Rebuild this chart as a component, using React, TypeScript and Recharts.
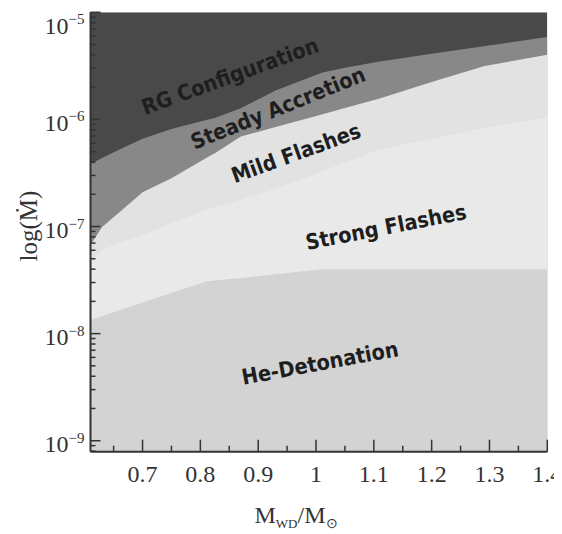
import { AreaChart, Area, XAxis, YAxis } from 'recharts';

// white dwarf mass (M_WD / M_sun) where the boundaries were read
const massGrid = [0.61, 0.63, 0.66, 0.7, 0.75, 0.81, 0.825, 0.87, 0.93, 1.01, 1.05, 1.11, 1.2, 1.29, 1.4];

// accretion rate boundaries (Msun/yr)
const rgLower = [3.84e-7, 4.37e-7, 5.25e-7, 6.61e-7, 8.13e-7, 9.89e-7, 1.03e-6, 1.27e-6, 1.86e-6, 2.72e-6, 3.03e-6, 3.47e-6, 4.1e-6, 4.82e-6, 5.89e-6];
const steadyLower = [6.71e-8, 9.89e-8, 1.36e-7, 2.09e-7, 2.82e-7, 4.37e-7, 4.83e-7, 6.92e-7, 8.51e-7, 1.11e-6, 1.28e-6, 1.57e-6, 2.24e-6, 3.14e-6, 4.01e-6];
const mildLower = [4.68e-8, 6.03e-8, 7.08e-8, 8.32e-8, 1.07e-7, 1.43e-7, 1.51e-7, 1.78e-7, 2.24e-7, 3.24e-7, 3.98e-7, 5.25e-7, 6.61e-7, 8.32e-7, 1.05e-6];
const heUpper = [1.34e-8, 1.45e-8, 1.65e-8, 1.95e-8, 2.4e-8, 3.07e-8, 3.13e-8, 3.31e-8, 3.59e-8, 3.98e-8, 3.98e-8, 3.98e-8, 3.98e-8, 3.98e-8, 3.98e-8];

const yTop = 1e-5;
const yBottom = 7.9e-10;

const xTicks = [0.65, 0.7, 0.75, 0.8, 0.85, 0.9, 0.95, 1, 1.05, 1.1, 1.15, 1.2, 1.25, 1.3, 1.35, 1.4];
const yDecades = [1e-9, 1e-8, 1e-7, 1e-6, 1e-5];
const yMinorSteps = [2, 3, 4, 5, 6, 7, 8, 9];
const yTicks = [8e-10, 9e-10, ...yDecades.flatMap((d) => (d < yTop ? [d, ...yMinorSteps.map((k) => k * d)] : [d]))];

const regionLabels = [
  { text: 'RG Configuration', x: 222, y: 68, angle: -20 },
  { text: 'Steady Accretion', x: 270, y: 100, angle: -22 },
  { text: 'Mild Flashes', x: 288, y: 145, angle: -20 },
  { text: 'Strong Flashes', x: 378, y: 219, angle: -11 },
  { text: 'He-Detonation', x: 312, y: 355, angle: -10.5 },
];

const rows = massGrid.map((m, i) => ({
  m,
  top: yTop,
  rg: rgLower[i],
  steady: steadyLower[i],
  mild: mildLower[i],
  he: heUpper[i],
}));

const SERIF = "'Times New Roman', 'Liberation Serif', serif";
const AXIS = '#333';
const W = 554;
const H = 526;

const isMajorX = (v: number) => Math.abs(v * 10 - Math.round(v * 10)) < 1e-6;
const isMajorY = (v: number) => Math.abs(Math.log10(v) - Math.round(Math.log10(v))) < 1e-6;

const BottomTick = ({ x, y, payload }: any) => {
  const v = payload.value;
  const major = isMajorX(v);
  return (
    <g>
      <line x1={x} y1={y} x2={x} y2={y - (major ? 12 : 6)} stroke={AXIS} strokeWidth={1.5} />
      {major && (
        <text x={x} y={y + 30} textAnchor="middle" fontFamily={SERIF} fontSize={24} fill="#333">
          {String(v)}
        </text>
      )}
    </g>
  );
};

const TopTick = ({ x, y }: any) => (
  <line x1={x} y1={y} x2={x} y2={y + 12} stroke={AXIS} strokeWidth={1.5} />
);

const LeftTick = ({ x, y, payload }: any) => {
  const v = payload.value;
  const major = isMajorY(v);
  const exp = Math.round(Math.log10(v));
  const shift = exp === -5 ? 10 : 0;
  return (
    <g>
      <line x1={x} y1={y} x2={x + (major ? 10 : 5)} y2={y} stroke={AXIS} strokeWidth={1.5} />
      {major && (
        <text x={x - 6} y={y + 11.5 + shift} textAnchor="end" fontFamily={SERIF} fill="#333">
          <tspan fontSize={24}>10</tspan>
          <tspan fontSize={15} dy={-9.5}>{'\u2212' + Math.abs(exp)}</tspan>
        </text>
      )}
    </g>
  );
};

const RightTick = ({ x, y, payload }: any) => {
  const major = isMajorY(payload.value);
  return <line x1={x} y1={y} x2={x - (major ? 8 : 5)} y2={y} stroke={AXIS} strokeWidth={1.5} />;
};

// labels drawn over the chart so the filled regions do not hide them
const Overlay = () => (
  <svg width={W} height={H} style={{ position: 'absolute', left: 0, top: 0, pointerEvents: 'none' }}>
    {regionLabels.map((l) => (
      <text
        key={l.text}
        x={l.x}
        y={l.y}
        transform={`rotate(${l.angle} ${l.x} ${l.y})`}
        textAnchor="middle"
        dominantBaseline="central"
        fontFamily="'DejaVu Sans Condensed', 'DejaVu Sans', sans-serif"
        fontWeight="bold"
        fontSize={21.5}
        fill="#1e1e1e"
      >
        {l.text}
      </text>
    ))}
    <text x={288} y={515} textAnchor="middle" fontFamily={SERIF} fill="#333">
      <tspan fontSize={24}>M</tspan>
      <tspan fontSize={13} dy={5}>WD</tspan>
      <tspan fontSize={24} dy={-5}>/M</tspan>
      <tspan fontSize={14} dy={5}>{'\u2299'}</tspan>
    </text>
    <text
      x={20}
      y={218}
      transform="rotate(-90 20 218)"
      textAnchor="middle"
      dominantBaseline="central"
      fontFamily={SERIF}
      fontSize={25}
      fill="#333"
    >
      log({'\u1E40'})
    </text>
  </svg>
);

export default function App() {
  return (
    <div style={{ position: 'relative', width: W, height: H }}>
      <AreaChart
        width={W}
        height={H}
        data={rows}
        margin={{ top: 4.3, right: 14.7, left: 22.5, bottom: 42.3 }}
      >
        <XAxis
          dataKey="m"
          type="number"
          domain={[0.61, 1.4]}
          allowDataOverflow
          ticks={xTicks}
          interval={0}
          tickSize={0}
          tickMargin={0}
          tickLine={false}
          tick={<BottomTick />}
          height={40}
          axisLine={{ stroke: AXIS, strokeWidth: 2 }}
        />
        <XAxis
          xAxisId="top"
          orientation="top"
          type="number"
          domain={[0.61, 1.4]}
          allowDataOverflow
          ticks={xTicks}
          interval={0}
          tickSize={0}
          tickMargin={0}
          tickLine={false}
          tick={<TopTick />}
          height={0}
          axisLine={{ stroke: '#555', strokeWidth: 1.5 }}
        />
        <YAxis
          type="number"
          scale="log"
          domain={[yBottom, yTop]}
          allowDataOverflow
          ticks={yTicks}
          interval={0}
          tickSize={0}
          tickMargin={0}
          tickLine={false}
          tick={<LeftTick />}
          width={60}
          axisLine={{ stroke: AXIS, strokeWidth: 2 }}
        />
        <YAxis
          yAxisId="right"
          orientation="right"
          type="number"
          scale="log"
          domain={[yBottom, yTop]}
          allowDataOverflow
          ticks={yTicks}
          interval={0}
          tickSize={0}
          tickMargin={0}
          tickLine={false}
          tick={<RightTick />}
          width={0}
          axisLine={{ stroke: AXIS, strokeWidth: 2 }}
        />
        <Area dataKey="top" type="linear" baseValue="dataMin" fill="#494949" fillOpacity={1} stroke="none" dot={false} activeDot={false} isAnimationActive={false} />
        <Area dataKey="rg" type="linear" baseValue="dataMin" fill="#888888" fillOpacity={1} stroke="none" dot={false} activeDot={false} isAnimationActive={false} />
        <Area dataKey="steady" type="linear" baseValue="dataMin" fill="#e2e2e2" fillOpacity={1} stroke="none" dot={false} activeDot={false} isAnimationActive={false} />
        <Area dataKey="mild" type="linear" baseValue="dataMin" fill="#e9e9e9" fillOpacity={1} stroke="none" dot={false} activeDot={false} isAnimationActive={false} />
        <Area dataKey="he" type="linear" baseValue="dataMin" fill="#d3d3d3" fillOpacity={1} stroke="none" dot={false} activeDot={false} isAnimationActive={false} />
      </AreaChart>
      <Overlay />
    </div>
  );
}
